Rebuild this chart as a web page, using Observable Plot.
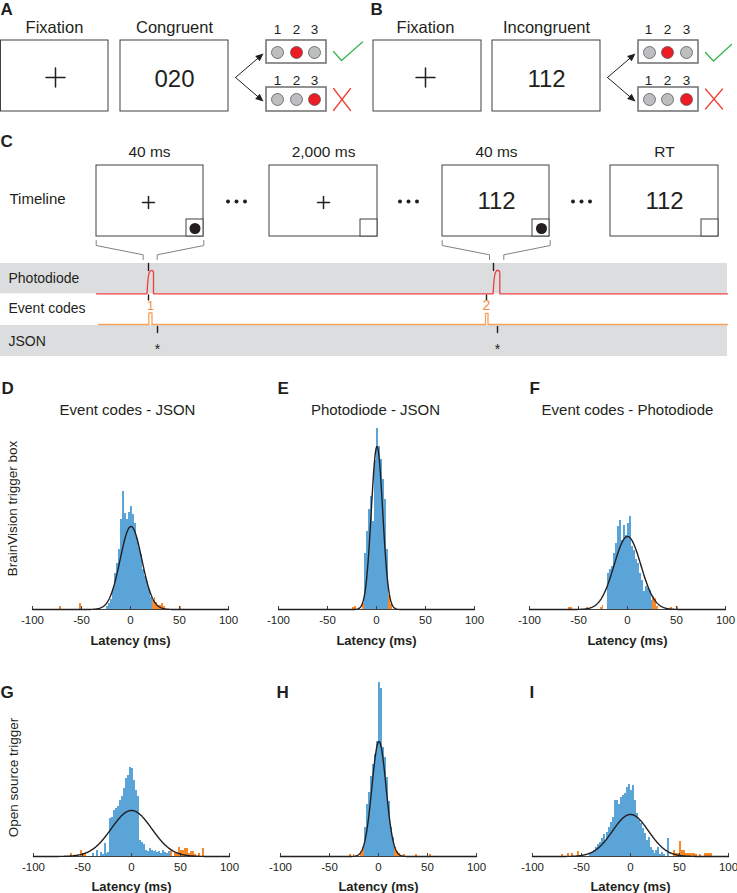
<!DOCTYPE html>
<html><head><meta charset="utf-8">
<script src="https://cdn.jsdelivr.net/npm/d3@7"></script>
<script src="https://cdn.jsdelivr.net/npm/@observablehq/plot@0.6"></script>
<style>
html,body{margin:0;padding:0;background:#fff;}
#fig{position:relative;width:737px;height:893px;overflow:hidden;background:#fff;color:#231f20;font-family:"Liberation Sans",Arial,sans-serif;}
#fig svg{position:absolute;overflow:visible;background:transparent;}
</style></head><body><div id="fig"></div>
<script>
// ---------------- DATA ----------------
const xTicks = [-100, -50, 0, 50, 100];
const binWidth = 2;
const titles = ["Event codes - JSON", "Photodiode - JSON", "Event codes - Photodiode"];
const rowLabels = ["BrainVision trigger box", "Open source trigger"];
const letters = ["D", "E", "F", "G", "H", "I"];
const xLabel = "Latency (ms)";

// histogram counts (bin starts every 2 ms), orange = outlier bins [start, count]
const blueStartD = -24;
const blueD = [3,6,10,20,36,46,60,90,118,96,90,97,103,95,86,71,62,55,40,33,28,20,12];
const orangeD = [[-72,3],[-52,6],[22,9],[24,12],[26,7],[28,4],[30,4],[32,6],[34,3],[50,3]];
const fitD = [0.5, 11, 83]; // mean, sd, peak

const blueStartE = -12;
const blueE = [56,78,100,113,88,149,181,163,150,130,110,60];
const orangeE = [[-24,2],[-22,3],[-14,6],[12,14],[14,5]];
const fitE = [0.5, 5.8, 163];

const blueStartF = -20;
const blueF = [36,40,43,56,66,83,89,69,84,74,86,93,63,59,50,46,36,29,18,23,21,19,9];
const orangeF = [[-60,2],[-58,2],[-42,2],[-28,2],[-26,4],[26,13],[28,11],[30,3],[44,2],[50,3]];
const fitF = [0, 13.7, 73];

const blueStartG = -40;
const blueG = [3,0,6,0,4,2,13,3,4,38,39,46,48,50,56,60,68,78,81,89,88,76,66,60,16,14,12,6,5,8,6,5,6,4,5,3,6,4,3,5];
const orangeG = [[-62,3],[-52,6],[-50,3],[-48,3],[40,6],[44,3],[46,3],[48,9],[50,6],[52,6],[54,8],[56,8],[58,3],[60,5],[62,5],[64,2],[68,3],[72,8]];
const fitG = [0, 20.6, 46];

const blueStartH = -14;
const blueH = [29,52,64,80,92,102,115,174,168,109,99,79,55,29,19];
const orangeH = [[-30,2],[-26,2],[-18,3],[-16,9],[16,9],[18,5],[20,3],[26,2],[38,2],[52,2]];
const fitH = [0.5, 7.2, 115];

const blueStartI = -42;
const blueI = [3,4,6,9,12,14,18,22,16,24,29,34,39,56,56,52,59,61,63,69,72,66,71,56,43,36,33,28,23,16,19,9,6,3,6,9,2,4,2,0,18];
const orangeI = [[-70,2],[-64,3],[-60,3],[-54,5],[44,6],[46,3],[48,3],[50,15],[52,6],[54,6],[56,3],[58,3],[60,3],[62,3],[64,3],[66,2],[70,2],[76,3],[78,3],[80,3],[82,3]];
const fitI = [0, 18.4, 42];

// ---------------- STYLE ----------------
const FONT = "Liberation Sans, Arial, Helvetica, sans-serif";
const INK = "#231f20";
const BLUE = "#5aa4d8";
const ORANGE = "#f7892a";
const fig = document.getElementById("fig");

function place(svg, left, top) {
  svg.style.left = left + "px";
  svg.style.top = top + "px";
  fig.appendChild(svg);
}

// ---------------- SCHEMATIC (A, B, C) in pixel (identity) coordinates ----------------
const bands = [{x1:0,y1:263,x2:727,y2:293.3},{x1:0,y1:325,x2:727,y2:356}];
const screens = [
  [0.5,40,108,111],[120,40,228,111],[373,40,481,111],[492,40,600,111],
  [96,165,203,236],[269,165,377,236],[442,165,549,236],[610,165,718,236],
  [186,219,203,236],[360,219,377,236],[532,219,549,236],[701,219,718,236]
].map(([x1,y1,x2,y2]) => ({x1,y1,x2,y2}));
const respBoxes = [[266,40,326,63],[266,87,326,111],[638,40,698,63],[638,87,698,111]]
  .map(([x1,y1,x2,y2]) => ({x1,y1,x2,y2}));
const GRAY = "#bcbec0", RED = "#ed1c24";
const buttons = [
  [277,52,GRAY],[296,52,RED],[314,52,GRAY],[277,99,GRAY],[296,99,GRAY],[314,99,RED],
  [649,52,GRAY],[667,52,RED],[686,52,GRAY],[649,99,GRAY],[667,99,GRAY],[686,99,RED]
].map(([x,y,fill]) => ({x,y,fill}));
const photoDots = [[194.5,228],[541,228]].map(([x,y]) => ({x,y}));
const ellipsis = [227.5,236,244.5,399.5,408,416.5,572.5,581,589.5].map(x => ({x, y:201}));
const pluses = [[55,77,9.5],[425,77,9.5],[148,202,6],[323,202,6]];
const segs = [];
let sid = 0;
function poly(pts, group) { const id = sid++; pts.forEach(([x,y]) => segs.push({x,y,id,group})); }
pluses.forEach(([cx,cy,a]) => { poly([[cx-a,cy],[cx+a,cy]],"ink"); poly([[cx,cy-a],[cx,cy+a]],"ink"); });
// arrows
const arrows = [[235,77,263,53],[235,77,263,101],[607,77,635,53],[607,77,635,101]];
const heads = [];
arrows.forEach(([x0,y0,x1,y1], i) => {
  const L = Math.hypot(x1-x0, y1-y0), ux = (x1-x0)/L, uy = (y1-y0)/L;
  const bx = x1 - ux*8, by = y1 - uy*8;
  poly([[x0,y0],[bx+ux*2,by+uy*2]],"thin");
  [[x1,y1],[bx - uy*3.5, by + ux*3.5],[bx + uy*3.5, by - ux*3.5]].forEach(([x,y]) => heads.push({x,y,id:i}));
});
// brackets
poly([[95.7,240],[95.7,245],[142.7,254.3],[142.7,259]],"bracket");
poly([[203.3,240],[203.3,245],[156.7,254.3],[156.7,259]],"bracket");
poly([[441.7,240],[441.7,245],[489,254.3],[489,259]],"bracket");
poly([[549.7,240],[549.7,245],[503.3,254.3],[503.3,259]],"bracket");
// markers (black dashes)
[[148,263,270],[493,263,270],[148,294.5,299.5],[486,294.5,299.5],[157,326,332],[497,326,332]]
  .forEach(([x,a,b]) => poly([[x,a],[x,b]],"dash"));
// checks and crosses
poly([[333,51],[341,60],[362,41.5]],"check");
poly([[705,52],[713,60.5],[731,44]],"check");
poly([[333,88],[350,110]],"cross"); poly([[333,110],[350,88]],"cross");
poly([[705,88.5],[722,108.5]],"cross"); poly([[705,108.5],[722,88.5]],"cross");
// photodiode trace
poly([[96,293.3],[146.5,293.3],[147,285],[147.6,278],[148.4,273],[149.6,270.5],[151,270],[152.4,270.3],[153,271.5],[153,293.3],
      [492.6,293.3],[493.1,285],[493.7,278],[494.6,273],[496,270],[498.2,269.8],[499.3,271.5],[499.3,293.3],[727,293.3]],"photo");
// event code trace
poly([[98,324],[148.3,324],[148.3,312.5],[151.5,312.5],[151.5,324],[485,324],[485,312.8],[487.5,312.8],[487.5,324],[727,324]],"event");

const midTexts = [
  [54,27,"Fixation",16.5],[174,27,"Congruent",16.5],[425,27,"Fixation",16.5],[546,27,"Incongruent",16.5],
  [174,78.5,"020",24],[546,78.5,"112",24],
  [277,29.5,"1",13.5],[296,29.5,"2",13.5],[314,29.5,"3",13.5],[277,80,"1",13.5],[296,80,"2",13.5],[314,80,"3",13.5],
  [648,29.5,"1",13.5],[667,29.5,"2",13.5],[686,29.5,"3",13.5],[648,80,"1",13.5],[667,80,"2",13.5],[686,80,"3",13.5],
  [149,151.5,"40 ms",15.5],[323,151.5,"2,000 ms",15.5],[496,151.5,"40 ms",15.5],[664,151.5,"RT",15.5],
  [496,200.5,"112",24],[664,200.5,"112",24],
  [157,349,"*",14],[497,349,"*",14]
].map(([x,y,text,size]) => ({x,y,text,size}));
const leftTexts = [[9,198.5,"Timeline",15],[8,278,"Photodiode",14],[8,308.5,"Event codes",14],[8,341,"JSON",14]]
  .map(([x,y,text,size]) => ({x,y,text,size}));
const codeTexts = [[150,306,"1",12],[486,305,"2",14]].map(([x,y,text,size]) => ({x,y,text,size}));
const panelLetters = [[0,9,"A"],[370,9,"B"],[0,141.5,"C"]].map(([x,y,text]) => ({x,y,text}));

const segStyle = {
  ink: {stroke: INK, strokeWidth: 1.5},
  thin: {stroke: INK, strokeWidth: 1},
  bracket: {stroke: "#808285", strokeWidth: 1},
  dash: {stroke: INK, strokeWidth: 1.4},
  check: {stroke: "#39b54a", strokeWidth: 1.3},
  cross: {stroke: "#ef4136", strokeWidth: 1.3},
  photo: {stroke: "#ef3e42", strokeWidth: 1.3},
  event: {stroke: "#f7a35c", strokeWidth: 1.3}
};

const schematic = Plot.plot({
  width: 737, height: 360, margin: 0,
  x: {type: "identity", axis: null}, y: {type: "identity", axis: null},
  color: {type: "identity"},
  style: {fontFamily: FONT, background: "transparent", overflow: "visible"},
  marks: [
    Plot.rect(bands, {x1:"x1", y1:"y1", x2:"x2", y2:"y2", fill: "#dcddde"}),
    Plot.rect(screens, {x1:"x1", y1:"y1", x2:"x2", y2:"y2", fill: "white", stroke: "#414042", strokeWidth: 1}),
    Plot.rect(respBoxes, {x1:"x1", y1:"y1", x2:"x2", y2:"y2", fill: "white", stroke: "#6d6e71", strokeWidth: 1.5}),
    Plot.dot(buttons, {x:"x", y:"y", r: 6, fill: "fill", stroke: "#58595b", strokeWidth: 0.8}),
    Plot.dot(photoDots, {x:"x", y:"y", r: 5.5, fill: INK}),
    Plot.dot(ellipsis, {x:"x", y:"y", r: 2, fill: INK}),
    ...Object.entries(segStyle).map(([g, st]) =>
      Plot.line(segs.filter(d => d.group === g), {x:"x", y:"y", z:"id", curve: "linear", strokeLinejoin: "round", ...st})),
    Plot.line(heads, {x:"x", y:"y", z:"id", fill: INK, stroke: "none"}),
    Plot.text(midTexts, {x:"x", y:"y", text:"text", fontSize:"size", fill: INK}),
    Plot.text(leftTexts, {x:"x", y:"y", text:"text", fontSize:"size", textAnchor:"start", fill: INK}),
    Plot.text(codeTexts, {x:"x", y:"y", text:"text", fontSize:"size", fill: "#f58b3a"}),
    Plot.text(panelLetters, {x:"x", y:"y", text:"text", fontSize: 17, fontWeight: "bold", textAnchor: "start", fill: INK})
  ]
});
place(schematic, 0, 0);

// ---------------- HISTOGRAMS (D–I) ----------------
const rows = [{top: 375, ymax: 230, letterDy: 9}, {top: 662, ymax: 190, letterDy: 26}];
const panels = [
  {start: blueStartD, blue: blueD, orange: orangeD, fit: fitD, row: 0, x0: 32,  letterDx: -31, title: titles[0], titleDx: -3, rowLabel: rowLabels[0], labelDy: 14},
  {start: blueStartE, blue: blueE, orange: orangeE, fit: fitE, row: 0, x0: 278, letterDx: -1,  title: titles[1], titleDx: -1},
  {start: blueStartF, blue: blueF, orange: orangeF, fit: fitF, row: 0, x0: 529, letterDx: 0,   title: titles[2], titleDx: 0},
  {start: blueStartG, blue: blueG, orange: orangeG, fit: fitG, row: 1, x0: 33,  letterDx: -33, rowLabel: rowLabels[1], labelDy: 16},
  {start: blueStartH, blue: blueH, orange: orangeH, fit: fitH, row: 1, x0: 280, letterDx: -4},
  {start: blueStartI, blue: blueI, orange: orangeI, fit: fitI, row: 1, x0: 532, letterDx: -3}
];
const mL = 36, mR = 8, mT = 4, mB = 40, innerW = 196;

panels.forEach((p, i) => {
  const row = rows[p.row];
  const blueBins = p.blue.map((c, k) => ({x1: p.start + k*binWidth, x2: p.start + (k+1)*binWidth, y: c})).filter(d => d.y > 0);
  const orangeBins = p.orange.map(([s, c]) => ({x1: s, x2: s + binWidth, y: c}));
  const [mu, sd, peak] = p.fit;
  const curve = d3.range(-100, 100.001, 0.5).map(x => ({x, y: peak * Math.exp(-0.5 * ((x - mu)/sd) ** 2)}));
  const marks = [
    Plot.rectY(blueBins, {x1:"x1", x2:"x2", y:"y", fill: BLUE, shapeRendering: "crispEdges"}),
    Plot.rectY(orangeBins, {x1:"x1", x2:"x2", y:"y", fill: ORANGE, shapeRendering: "crispEdges"}),
    Plot.ruleY([0], {x1: -100, x2: 100, stroke: "#414042", strokeWidth: 1}),
    Plot.ruleX(xTicks, {x: d => d, y1: 0, y2: 3, stroke: "#414042", strokeWidth: 1}),
    Plot.line(curve, {x:"x", y:"y", stroke: INK, strokeWidth: 1.4}),
    Plot.text(xTicks, {x: d => d, y: 0, dy: 11, text: d => String(d), fontSize: 11.5, lineAnchor: "middle", fill: INK}),
    Plot.text([xLabel], {frameAnchor: "bottom", dy: 31 - (p.row ? 1 : 0), lineAnchor: "middle", fontSize: 13, fontWeight: "bold", fill: INK}),
    Plot.text([letters[i]], {frameAnchor: "top-left", dx: p.letterDx, dy: row.letterDy, textAnchor: "start", lineAnchor: "middle", fontSize: 17, fontWeight: "bold", fill: INK})
  ];
  if (p.title) marks.push(Plot.text([p.title], {frameAnchor: "top", dx: p.titleDx, dy: 31, lineAnchor: "middle", fontSize: 15, fill: INK}));
  if (p.rowLabel) marks.push(Plot.text([p.rowLabel], {frameAnchor: "left", dx: -20, dy: p.labelDy, rotate: -90, textAnchor: "middle", lineAnchor: "middle", fontSize: 13.5, fill: INK}));
  const chart = Plot.plot({
    width: mL + innerW + mR, height: mT + row.ymax + mB,
    marginLeft: mL, marginRight: mR, marginTop: mT, marginBottom: mB,
    x: {domain: [-100, 100], axis: null},
    y: {domain: [0, row.ymax], axis: null},
    style: {fontFamily: FONT, background: "transparent", overflow: "visible"},
    marks
  });
  place(chart, p.x0 - mL, row.top);
});
</script></body></html>
